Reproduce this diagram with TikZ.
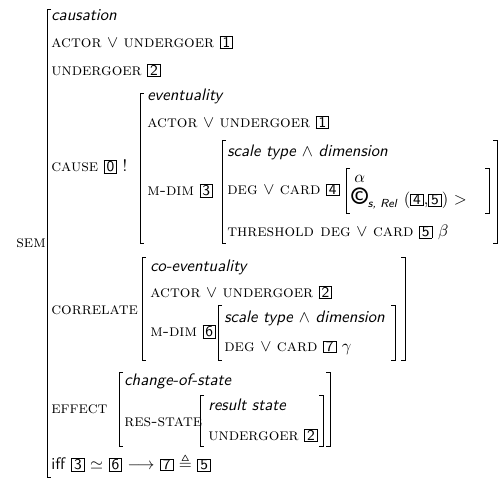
\documentclass[tikz,border=0pt]{standalone}
\usepackage{amssymb}
\newcommand{\feat}[1]{\textsc{#1}}
\newcommand{\type}[1]{\textsf{\itshape #1}}
\newcommand{\bx}[1]{{\setlength{\fboxsep}{0.3pt}\fbox{\kern1pt\fontsize{9}{10}\sffamily #1\kern1pt}}}
\newcommand{\lbr}[3]{\draw[brak] (#1+4,#2) -- (#1,#2) -- (#1,#3) -- (#1+4,#3);}
\newcommand{\rbr}[3]{\draw[brak] (#1-4,#2) -- (#1,#2) -- (#1,#3) -- (#1-4,#3);}
\tikzset{
  attr/.style={anchor=west, inner sep=0pt, text height=1.6ex, text depth=.3ex},
  brak/.style={line width=0.5pt}
}
\begin{document}
\begin{tikzpicture}[x=0.6pt,y=-0.6pt]
    \useasboundingbox (0,0) rectangle (499,478);

    % SEM
    \node[attr] (sem) at (16,243) {\feat{sem}};
    \lbr{47}{9}{477}
    \node[attr] (caus) at (51,16) {\type{causation}};
    \node[attr] (act) at (51,43) {\feat{actor} $\vee$ \feat{undergoer} \bx{1}};
    \node[attr] (und) at (51,71) {\feat{undergoer} \bx{2}};

    % CAUSE
    \node[attr] (cause) at (51,167) {\feat{cause} \bx{0} !};
    \lbr{140}{93}{243}
    \node[attr] (ev) at (147,96) {\type{eventuality}};
    \node[attr] (evact) at (147,123) {\feat{actor} $\vee$ \feat{undergoer} \bx{1}};
    \node[attr] (mdim3) at (147,191) {\feat{m-dim} \bx{3}};
    \lbr{222}{140}{243}
    \rbr{497}{140}{243}
    \node[attr] (sc3) at (227,152) {\type{scale type} $\wedge$ \type{dimension}};
    \node[attr] (deg4) at (227,190) {\feat{deg} $\vee$ \feat{card} \bx{4}};
    \lbr{346}{168}{213}
    \rbr{489}{168}{213}
    \node[attr] (alpha) at (354,178) {$\alpha$};
    \node[attr] (copy) at (351,200) {{\sffamily\bfseries\Large\textcopyright}$_{\mbox{\scriptsize\type{s, Rel}}}$ (\bx{4},\bx{5}) $>$};
    \node[attr] (thr5) at (227,232) {\feat{threshold deg} $\vee$ \feat{card} \bx{5} $\beta$};

    % CORRELATE
    \node[attr] (corr) at (51,310) {\feat{correlate}};
    \lbr{142}{257}{360}
    \rbr{405}{257}{360}
    \node[attr] (coev) at (150,267) {\type{co-eventuality}};
    \node[attr] (coact) at (150,293) {\feat{actor} $\vee$ \feat{undergoer} \bx{2}};
    \node[attr] (mdim6) at (150,332) {\feat{m-dim} \bx{6}};
    \lbr{218}{305}{360}
    \rbr{395}{305}{360}
    \node[attr] (sc6) at (224,318) {\type{scale type} $\wedge$ \type{dimension}};
    \node[attr] (deg7) at (224,347) {\feat{deg} $\vee$ \feat{card} \bx{7} $\gamma$};

    % EFFECT
    \node[attr] (eff) at (51,409) {\feat{effect}};
    \lbr{119}{372}{446}
    \rbr{330}{372}{446}
    \node[attr] (cos) at (124,381) {\type{change-of-state}};
    \node[attr] (res) at (124,422) {\feat{res-state}};
    \lbr{200}{395}{446}
    \rbr{323}{395}{446}
    \node[attr] (rs) at (208,406) {\type{result state}};
    \node[attr] (rsund) at (208,436) {\feat{undergoer} \bx{2}};

    % iff
    \node[attr] (iff) at (51,465) {\textsf{iff} \bx{3} $\simeq$ \bx{6} $\longrightarrow$ \bx{7} $\triangleq$ \bx{5}};
\end{tikzpicture}
\end{document}
